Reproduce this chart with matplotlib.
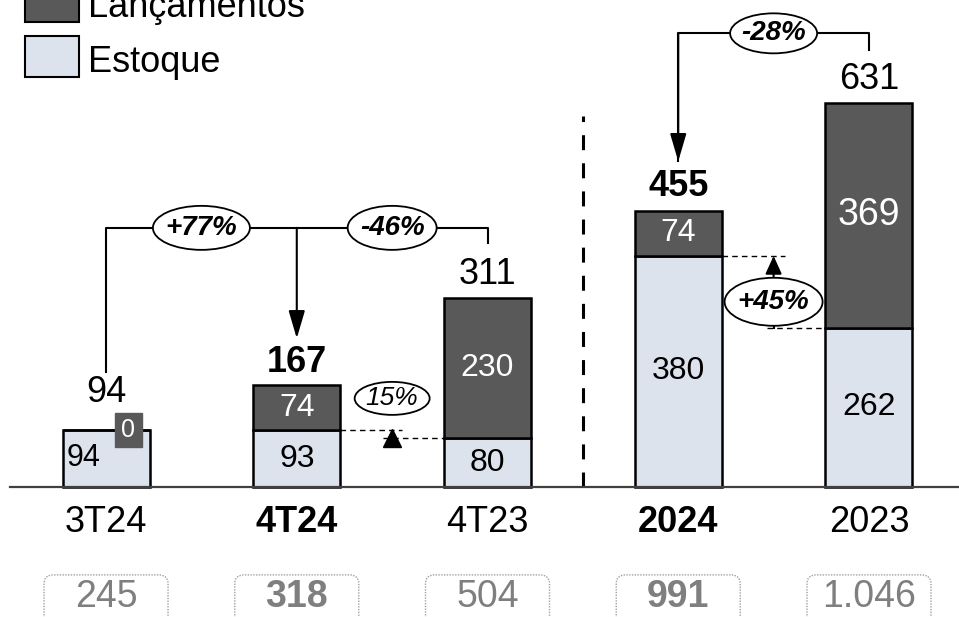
import matplotlib
matplotlib.use("Agg")
import matplotlib.pyplot as plt
from matplotlib.patches import Ellipse, FancyBboxPatch, Rectangle

plt.rcParams['font.family'] = ['Liberation Sans', 'DejaVu Sans']

# data
categories = ['3T24', '4T24', '4T23', '2024', '2023']
estoque = [94, 93, 80, 380, 262]
lancamentos = [0, 74, 230, 74, 369]
totais = [94, 167, 311, 455, 631]
caixas = ['245', '318', '504', '991', '1.046']
destaque = [False, True, False, True, False]
var_tri = ['+77%', '-46%', '15%']
var_ano = ['-28%', '+45%']

dark = '#595959'
light = '#dde3ed'

fig = plt.figure(figsize=(9.59, 6.17), dpi=100)
ax = fig.add_axes([0, 0, 1, 1])
xlim = (-0.556, 4.472)
ylim = (-214, 801)
ax.set_xlim(xlim)
ax.set_ylim(ylim)
ax.axis('off')

SX = 959 / (xlim[1] - xlim[0])   # px per x unit
SY = 617 / (ylim[1] - ylim[0])   # px per y unit


def dx(px):
    return px / SX


def dy(px):
    return px / SY


x = list(range(len(categories)))
w = dx(87)

ax.bar(x, estoque, w, color=light, edgecolor='black', linewidth=1.8, zorder=2)
ax.bar(x, lancamentos, w, bottom=estoque, color=dark, edgecolor='black',
       linewidth=1.8, zorder=2)

# baseline + separator
ax.axhline(0, xmin=10 / 959, color='#404040', lw=1.6, zorder=3)
ax.plot([2.5, 2.5], [0, 610], color='black', lw=2.2, ls=(0, (4.9, 4.3)), zorder=1)

# labels inside bars
for i in x:
    if lancamentos[i] == 0:
        ax.text(i - w / 2 + dx(4), estoque[i] / 2, str(estoque[i]), ha='left',
                va='center', fontsize=22, zorder=4)
        cx = i + dx(22)
        ax.add_patch(Rectangle((cx - dx(13.5), estoque[i] - dy(17)), dx(27), dy(34),
                               color=dark, zorder=4))
        ax.text(cx, estoque[i], '0', color='white', ha='center', va='center',
                fontsize=18, zorder=5)
        off = 20
    else:
        ax.text(i, estoque[i] / 2, str(estoque[i]), ha='center', va='center',
                fontsize=23, zorder=4)
        ax.text(i, estoque[i] + lancamentos[i] / 2, str(lancamentos[i]),
                color='white', ha='center', va='center',
                fontsize=27 if lancamentos[i] > 300 else 23, zorder=4)
        off = 10
    fw = 'bold' if destaque[i] else 'normal'
    ax.annotate(str(totais[i]), (i, totais[i]), xytext=(0, off),
                textcoords='offset points', ha='center', va='baseline',
                fontsize=26, fontweight=fw)
    ax.text(i, -dy(36), categories[i], ha='center', va='center', fontsize=26,
            fontweight=fw)
    ax.add_patch(FancyBboxPatch((i - dx(62), -dy(148)), dx(124), dy(60),
                                boxstyle=f'round,pad=0,rounding_size={dx(9)}',
                                mutation_aspect=SX / SY, fc='white', ec='#a0a0a0',
                                lw=1, ls=(0, (1, 1)), clip_on=False))
    ax.text(i, -dy(110), caixas[i], ha='center', va='center', fontsize=27,
            color='#7f7f7f', fontweight=fw)


def oval(cx, cy, wpx, hpx, txt, bold=True):
    ax.add_patch(Ellipse((cx, cy), dx(wpx), dy(hpx), fc='white', ec='black',
                         lw=1.3, zorder=6))
    ax.text(cx, cy, txt, ha='center', va='center', fontsize=20 if bold else 19,
            style='italic', fontweight='bold' if bold else 'normal', zorder=7)


def arrow(xp, y0, y1, head=1.7):
    ax.annotate('', xy=(xp, y1), xytext=(xp, y0),
                arrowprops=dict(arrowstyle=f'-|>,head_length={head},head_width=0.5',
                                mutation_scale=10, lw=1.5, color='black',
                                shrinkA=0, shrinkB=0), zorder=5)


line_kw = dict(color='black', lw=1.5, zorder=5)

# quarter brackets
lvl = totais[2] + dy(70)
ax.plot([0, 0, 2, 2], [totais[0] + dy(58), lvl, lvl, lvl - dy(15)], **line_kw)
arrow(1, lvl, totais[1] + dy(47))
oval(0.5, lvl, 97, 44, var_tri[0])
oval(1.5, lvl, 89, 44, var_tri[1])

# year bracket
lvl2 = totais[4] + dy(70)
ax.plot([3, 3, 4, 4], [totais[3] + dy(49), lvl2, lvl2, lvl2 - dy(17)], **line_kw)
arrow(3, lvl2, totais[3] + dy(49))
oval(3.5, lvl2, 87, 40, var_ano[0])

# estoque comparison 4T24 vs 4T23
dash_kw = dict(color='black', lw=1, ls=(0, (4, 3)), zorder=3)
ax.plot([1 + w / 2, 1.5 + dx(10)], [estoque[1]] * 2, **dash_kw)
ax.plot([1.5 - dx(9), 2 - w / 2], [estoque[2]] * 2, **dash_kw)
ax.plot(1.5, estoque[1] - dy(8), marker='^', ms=13, color='black', zorder=5)
oval(1.5, estoque[1] + dy(32), 75, 33, var_tri[2], bold=False)

# estoque comparison 2024 vs 2023
ax.plot([3 + w / 2, 3.5 + dx(11)], [estoque[3]] * 2, **dash_kw)
ax.plot([3.5 - dx(7), 4 - w / 2], [estoque[4]] * 2, **dash_kw)
cy = (estoque[3] + estoque[4]) / 2 - dy(10)
arrow(3.5, cy + dy(24), estoque[3], head=1.1)
ax.plot([3.5, 3.5], [estoque[4], cy - dy(24)], **line_kw)
oval(3.5, cy, 98, 48, var_ano[1])

# legend
T = ax.transAxes
ax.add_patch(Rectangle((25 / 959, 1 - 22 / 617), 54 / 959, 41 / 617, transform=T,
                       fc=dark, ec='black', lw=1.5, clip_on=False))
ax.add_patch(Rectangle((25 / 959, 1 - 77 / 617), 54 / 959, 41 / 617, transform=T,
                       fc=light, ec='black', lw=1.5, clip_on=False))
ax.text(88 / 959, 1 - 17 / 617, 'Lançamentos', transform=T, va='baseline', fontsize=26)
ax.text(88 / 959, 1 - 72 / 617, 'Estoque', transform=T, va='baseline', fontsize=26)

fig.savefig('out.png', dpi=100)
